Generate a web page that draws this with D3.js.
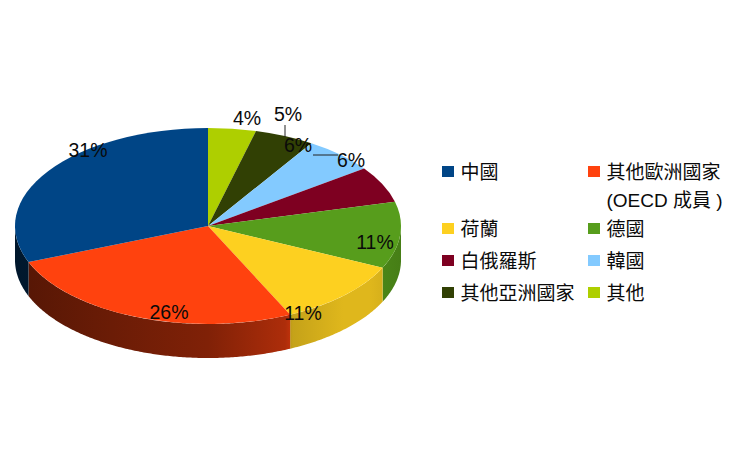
<!DOCTYPE html>
<html>
<head>
<meta charset="utf-8">
<script src="https://cdn.jsdelivr.net/npm/d3@7"></script>
<style>
html, body { margin: 0; padding: 0; background: #fff; }
svg { display: block; }
text { fill: #0a0a0a; }
</style>
</head>
<body>
<script>
// slices run clockwise from 12 o'clock
var categories = ["其他", "其他亞洲國家", "韓國", "白俄羅斯", "德國", "荷蘭", "其他歐洲國家", "中國"];
var values = [4, 5, 6, 6, 11, 11, 26, 31];
var colors = ["#aecf00", "#314004", "#83caff", "#7e0021", "#579d1c", "#fdd020", "#ff420e", "#004586"];
var legendOrder = ["中國", "其他歐洲國家", "荷蘭", "德國", "白俄羅斯", "韓國", "其他亞洲國家", "其他"];

var w = 740;
var h = 463;
var cx = 208;
var cy = 226;
var rx = 193;
var ry = 98;
var depth = 34;

var svg = d3.select("body").append("svg").attr("width", w).attr("height", h);
var defs = svg.append("defs");

var pie = d3.pie().sort(null).value(function(d){ return d; });
var arcs = pie(values);
var arc = d3.arc().innerRadius(0).outerRadius(rx);

function pt(a){
    return [cx + rx * Math.sin(a), cy - ry * Math.cos(a)];
}

// side wall shading, dark on the left and lit towards the front right
colors.forEach(function(c, i){
    var g = defs.append("linearGradient")
        .attr("id", "wall" + i)
        .attr("gradientUnits", "userSpaceOnUse")
        .attr("x1", cx - rx).attr("x2", cx + rx)
        .attr("y1", 0).attr("y2", 0);
    var stops = [[0, 0.33], [0.25, 0.42], [0.5, 0.5], [0.7, 0.68], [0.72, 0.78], [0.85, 0.88], [0.92, 0.88], [1, 0.8]];
    stops.forEach(function(s){
        var col = d3.rgb(c);
        g.append("stop")
            .attr("offset", s[0])
            .attr("stop-color", d3.rgb(col.r * s[1], col.g * s[1], col.b * s[1]).formatHex());
    });
});

// walls are only visible on the lower half of the ellipse
var walls = svg.append("g");
arcs.forEach(function(d, i){
    var a0 = Math.max(d.startAngle, Math.PI / 2);
    var a1 = Math.min(d.endAngle, Math.PI * 1.5);
    if (a1 <= a0) return;
    var angles = d3.range(a0, a1, 0.01).concat([a1]);
    var top = angles.map(pt);
    var bottom = angles.slice().reverse().map(function(a){
        var p = pt(a);
        return [p[0], p[1] + depth];
    });
    walls.append("path")
        .attr("d", d3.line()(top.concat(bottom)) + "Z")
        .attr("fill", "url(#wall" + i + ")");
});

var face = svg.append("g")
    .attr("transform", "translate(" + cx + "," + cy + ") scale(1," + (ry / rx) + ")");
face.selectAll("path")
    .data(arcs)
    .enter()
    .append("path")
    .attr("d", arc)
    .attr("fill", function(d, i){ return colors[i]; });

// leader lines for the two crowded labels
[[285, 125, 285, 137], [313, 155, 338, 155]].forEach(function(l){
    svg.append("line")
        .attr("x1", l[0]).attr("y1", l[1])
        .attr("x2", l[2]).attr("y2", l[3])
        .attr("stroke", "#222")
        .attr("stroke-width", 1);
});

// label centres, same order as the slices
var labelSpots = [[247, 118], [288, 114], [298, 145], [351, 160], [375, 242], [303, 313], [169, 312], [88, 150]];
svg.selectAll("text.pct")
    .data(arcs)
    .enter()
    .append("text")
    .attr("class", "pct")
    .attr("x", function(d, i){ return labelSpots[i][0]; })
    .attr("y", function(d, i){ return labelSpots[i][1]; })
    .attr("dy", "0.36em")
    .attr("text-anchor", "middle")
    .attr("font-family", "'Liberation Sans', sans-serif")
    .attr("font-size", "19.5px")
    .text(function(d){ return d.value + "%"; });

// legend, two columns
var legendX = d3.scalePoint().domain([0, 1]).range([442, 588]);
var legendY = d3.scaleOrdinal().domain([0, 1, 2, 3]).range([172, 229, 261, 293]);
var legend = svg.selectAll("g.item")
    .data(legendOrder)
    .enter()
    .append("g")
    .attr("class", "item")
    .attr("transform", function(d, i){
        return "translate(" + legendX(i % 2) + "," + legendY(Math.floor(i / 2)) + ")";
    });
legend.append("rect")
    .attr("y", -6)
    .attr("width", 12)
    .attr("height", 11)
    .attr("fill", function(d){ return colors[categories.indexOf(d)]; });
legend.append("text")
    .attr("x", 18.5)
    .attr("dy", "0.36em")
    .attr("font-family", "'Noto Sans CJK TC', sans-serif")
    .attr("font-size", "19px")
    .text(function(d){ return d; });
svg.append("text")
    .attr("x", legendX(1) + 18.5)
    .attr("y", 200)
    .attr("dy", "0.36em")
    .attr("font-family", "'Liberation Sans', 'Noto Sans CJK TC', sans-serif")
    .attr("font-size", "19px")
    .text("(OECD 成員 )");
</script>
</body>
</html>
